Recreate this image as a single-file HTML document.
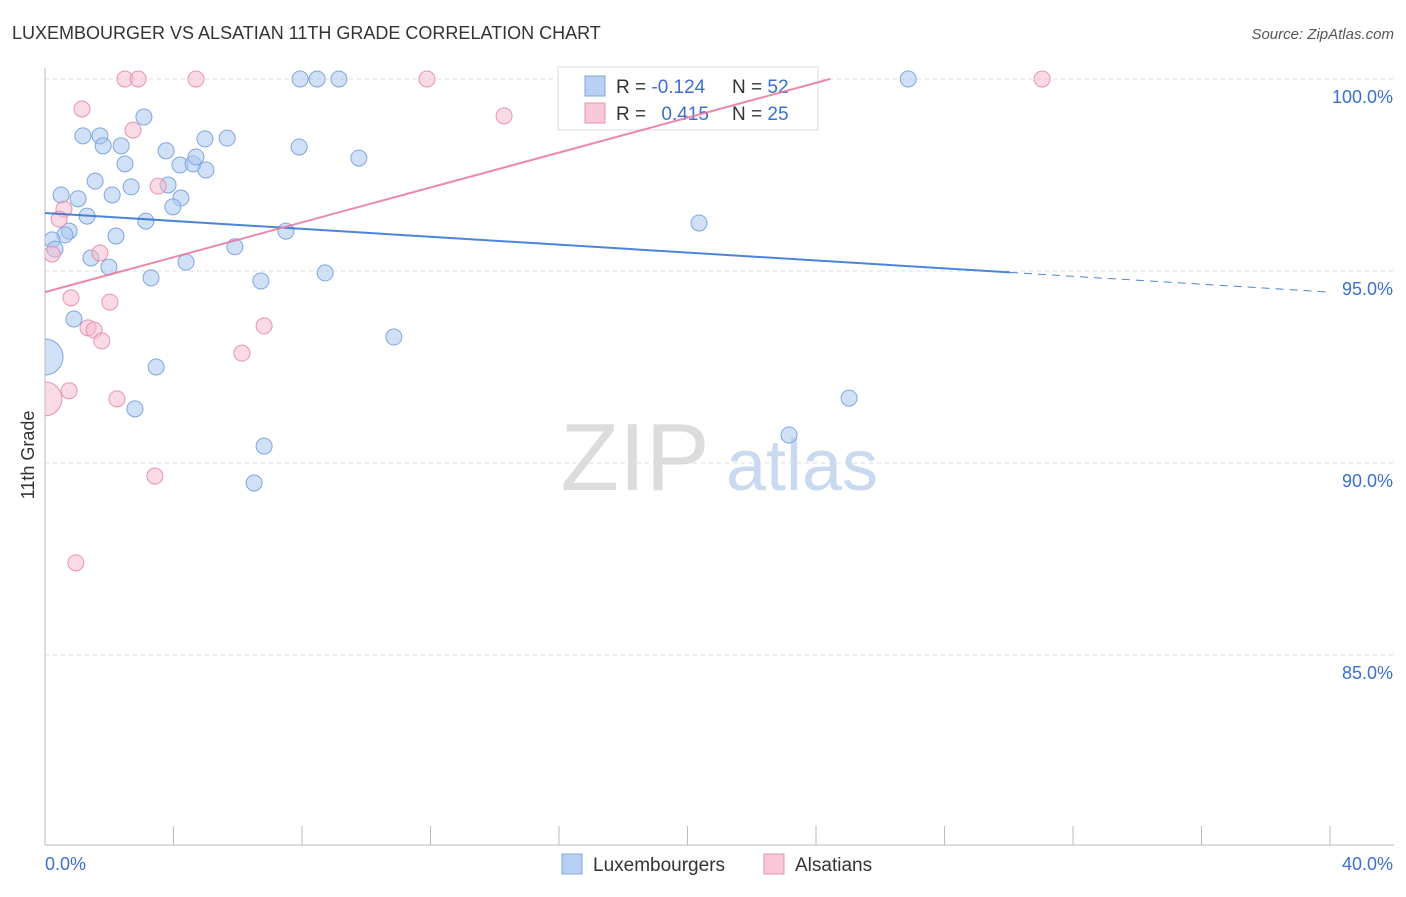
<!DOCTYPE html>
<html><head><meta charset="utf-8"><style>
body{margin:0;background:#fff;font-family:"Liberation Sans",sans-serif;}
svg text{font-family:"Liberation Sans",sans-serif;}
</style></head><body>
<svg id="chart" width="1406" height="892">
<defs><clipPath id="plotclip"><rect x="45" y="40" width="1360" height="806"/></clipPath></defs>
<text x="12" y="39" font-size="18" fill="#333">LUXEMBOURGER VS ALSATIAN 11TH GRADE CORRELATION CHART</text>
<text x="1394" y="39" font-size="15" fill="#555" font-style="italic" text-anchor="end">Source: ZipAtlas.com</text>
<g id="grid"></g>
<g id="watermark">
<text x="635" y="490" font-size="96" fill="#dcdcdc" font-family="Liberation Serif" text-anchor="middle">ZIP</text>
<text x="802" y="490" font-size="72" fill="#c9d9f0" text-anchor="middle">atlas</text>
</g>
<g id="points" clip-path="url(#plotclip)"></g>
<text x="34" y="455" font-size="18" fill="#333" transform="rotate(-90 34 455)" text-anchor="middle">11th Grade</text>
<g>
<rect x="558" y="67" width="260" height="63" fill="#fff" stroke="#ddd"/>
<rect x="585" y="76" width="20" height="20" fill="#b8d0f2" stroke="#7fa6df"/>
<rect x="585" y="103" width="20" height="20" fill="#f9c8d8" stroke="#e893ad"/>
<text x="616" y="93" font-size="19" fill="#333">R = <tspan fill="#3b6fd1">-0.124</tspan></text>
<text x="732" y="93" font-size="19" fill="#333">N = <tspan fill="#3b6fd1">52</tspan></text>
<text x="616" y="120" font-size="19" fill="#333">R = <tspan fill="#3b6fd1" dx="10">0.415</tspan></text>
<text x="732" y="120" font-size="19" fill="#333">N = <tspan fill="#3b6fd1">25</tspan></text>
</g>
<g id="lines" opacity="0.85"></g>
<g>
<rect x="562" y="854" width="20" height="20" fill="#b8d0f2" stroke="#7fa6df"/>
<text x="593" y="871" font-size="19" fill="#333">Luxembourgers</text>
<rect x="764" y="854" width="20" height="20" fill="#f9c8d8" stroke="#e893ad"/>
<text x="795" y="871" font-size="19" fill="#333">Alsatians</text>
</g>
</svg>
<script>
const xTicks=[0,4,8,12,16,20,24,28,32,36,40];
const yTicks=[100,95,90,85];
const yTickLabels=["100.0%","95.0%","90.0%","85.0%"];
const blueX=[7.94,8.47,9.15,26.87,3.08,1.18,1.71,1.81,2.37,4.98,5.67,7.91,3.77,2.49,4.20,4.61,4.70,5.01,9.77,1.56,2.68,3.83,0.50,1.03,2.09,4.23,3.98,1.31,3.14,20.36,0.75,0.62,2.21,7.50,0.22,0.31,5.91,1.43,1.99,4.39,8.72,3.30,6.72,0.90,10.86,0,3.46,25.03,2.80,23.16,6.82,6.51];
const blueY=[100,100,100,100,99.01,98.52,98.52,98.26,98.26,98.44,98.46,98.23,98.13,97.79,97.76,97.79,97.97,97.63,97.94,97.34,97.19,97.24,96.98,96.88,96.98,96.90,96.67,96.43,96.30,96.25,96.04,95.94,95.91,96.04,95.81,95.57,95.63,95.34,95.10,95.23,94.95,94.82,94.74,93.75,93.28,92.76,92.50,91.69,91.41,90.73,90.44,89.48];
const blueR=[8,8,8,8,8,8,8,8,8,8,8,8,8,8,8,8,8,8,8,8,8,8,8,8,8,8,8,8,8,8,8,8,8,8,8,8,8,8,8,8,8,8,8,8,8,18,8,8,8,8,8,8];
const pinkX=[2.49,2.90,4.70,11.89,31.04,1.15,14.29,2.74,3.52,0.59,0.44,1.71,0.22,0.81,2.02,1.34,1.53,6.82,1.77,6.13,0,0.75,2.24,3.42,0.96];
const pinkY=[100,100,100,100,100,99.22,99.04,98.67,97.21,96.61,96.35,95.47,95.44,94.30,94.19,93.52,93.46,93.57,93.18,92.86,91.67,91.88,91.67,89.66,87.40];
const pinkR=[8,8,8,8,8,8,8,8,8,8,8,8,8,8,8,8,8,8,8,8,17,8,8,8,8];
const blueTrend=[96.51,94.45];
const blueSolidEnd=30.04;
const pinkTrend=[94.45,100.0];
const pinkTrendEnd=24.44;

const X=v=>45+v/40*1285;
const Y=v=>79+(100-v)/5*192;
const NS="http://www.w3.org/2000/svg";
function mk(tag,attrs,parent){const e=document.createElementNS(NS,tag);for(const k in attrs)e.setAttribute(k,attrs[k]);parent.appendChild(e);return e;}
const grid=document.getElementById('grid');
yTicks.forEach((t,i)=>{
 const l=mk('line',{x1:45,x2:1394,y1:Y(t),y2:Y(t),stroke:'#ddd','stroke-dasharray':'4,4'},grid);
 
 
 const tx=mk('text',{x:1393,y:Y(t)+24,'font-size':18,fill:'#3b6fd1','text-anchor':'end'},grid);
 tx.textContent=yTickLabels[i];
 
 
});
const ax=mk('line',{x1:45,x2:45,y1:68,y2:845,stroke:'#bbb'},grid);


const bx=mk('line',{x1:45,x2:1394,y1:845,y2:845,stroke:'#bbb'},grid);


xTicks.forEach(t=>{
 const l=mk('line',{x1:X(t),x2:X(t),y1:826,y2:845,stroke:'#bbb'},grid);
 
 
});
const xl0=mk('text',{x:45,y:870,'font-size':18,fill:'#3b6fd1'},grid);xl0.textContent='0.0%';


const xl1=mk('text',{x:1393,y:870,'font-size':18,fill:'#3b6fd1','text-anchor':'end'},grid);xl1.textContent='40.0%';



const pts=document.getElementById('points');
blueX.forEach((v,i)=>{
 const c=mk('circle',{cx:X(v),cy:Y(blueY[i]),r:blueR[i],fill:'rgba(169,198,238,0.55)',stroke:'#7fa6df','stroke-width':1},pts);
 
 
});
pinkX.forEach((v,i)=>{
 const c=mk('circle',{cx:X(v),cy:Y(pinkY[i]),r:pinkR[i],fill:'rgba(245,184,203,0.5)',stroke:'#e893ad','stroke-width':1},pts);
 
 
});
const ln=document.getElementById('lines');
const bAt=x=>blueTrend[0]+(blueTrend[1]-blueTrend[0])*x/40;
const b1=mk('line',{x1:X(0),y1:Y(bAt(0)),x2:X(blueSolidEnd),y2:Y(bAt(blueSolidEnd)),stroke:'#2f6fd4','stroke-width':2},ln);


const b2=mk('line',{x1:X(blueSolidEnd),y1:Y(bAt(blueSolidEnd)),x2:X(40),y2:Y(bAt(40)),stroke:'#2f6fd4','stroke-width':1,'stroke-dasharray':'8,6'},ln);


const p1=mk('line',{x1:X(0),y1:Y(pinkTrend[0]),x2:X(pinkTrendEnd),y2:Y(pinkTrend[1]),stroke:'#e8759b','stroke-width':2},ln);


</script>
</body></html>
